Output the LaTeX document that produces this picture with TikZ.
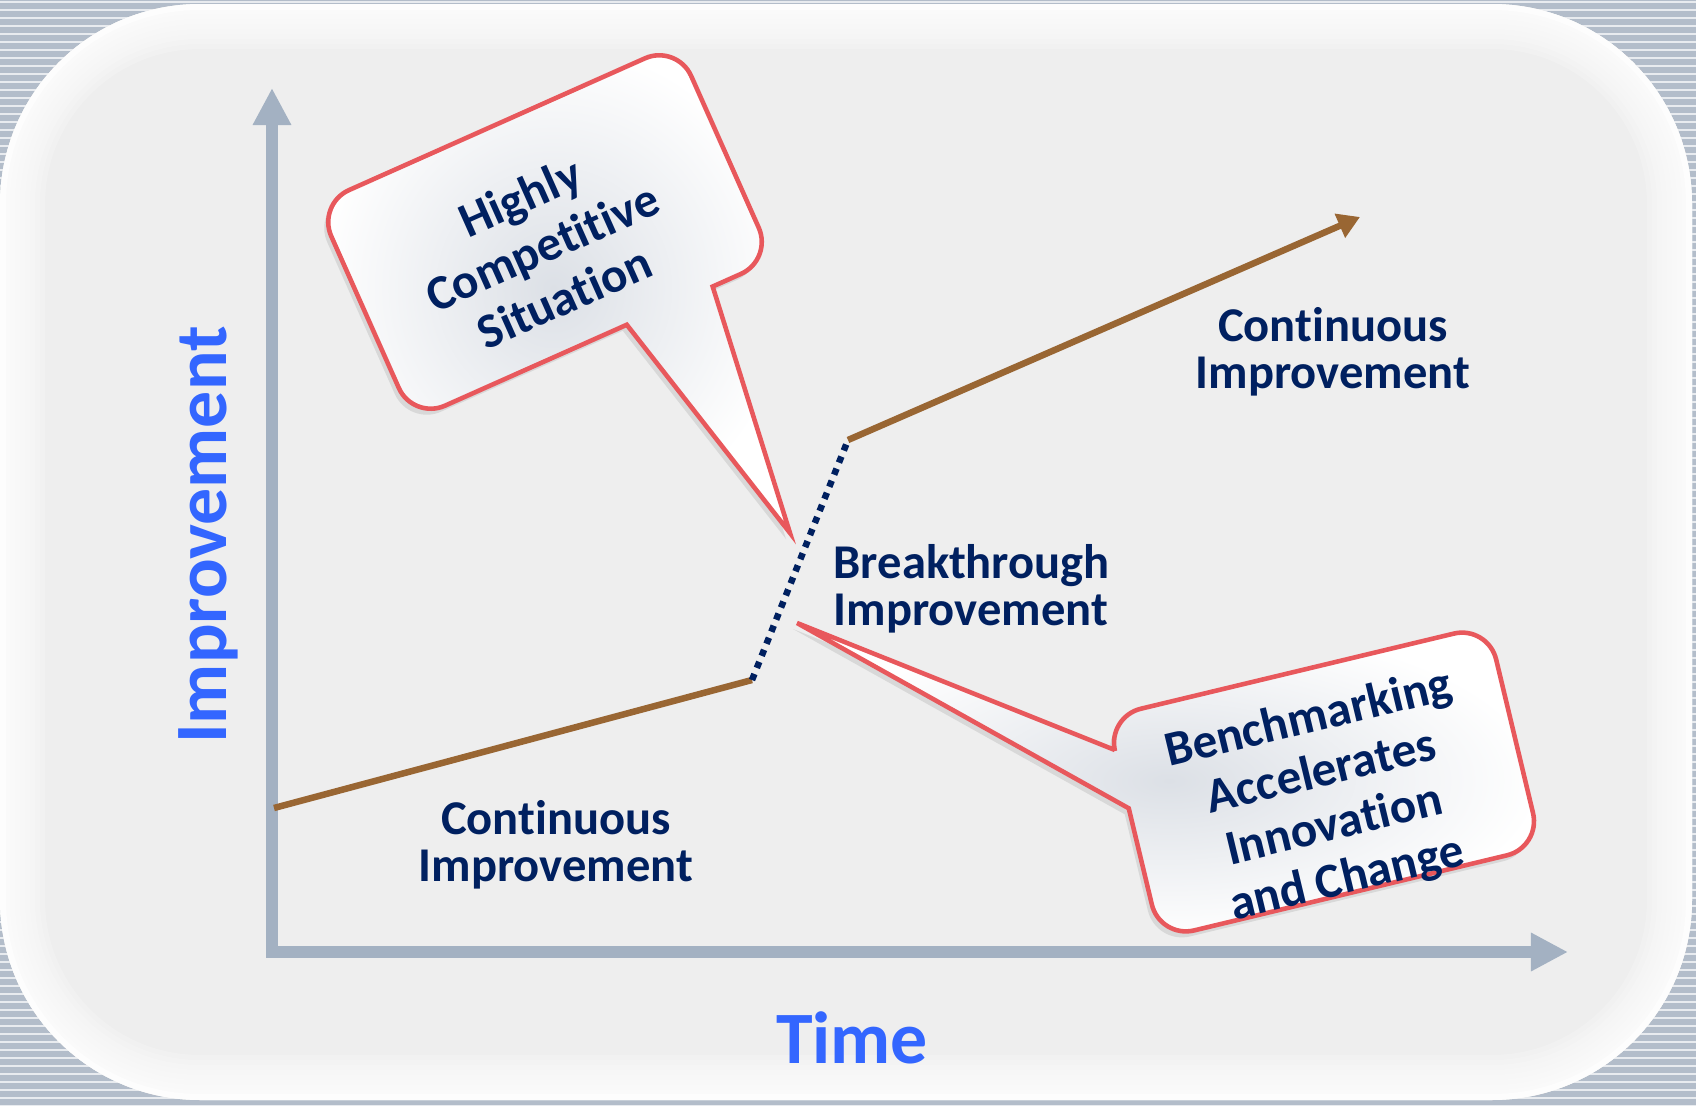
\documentclass[tikz,border=0pt]{standalone}
\usepackage{fontspec}
\setmainfont{Carlito}[Ligatures={NoCommon,NoContextual,NoRequired}, Contextuals=NoAlternate]
\usetikzlibrary{arrows.meta, shadows, positioning}

\definecolor{navy}{HTML}{002060}
\definecolor{axisblue}{HTML}{3366FF}
\definecolor{axisgrey}{HTML}{A3B1C2}
\definecolor{brownline}{HTML}{996633}
\definecolor{bubred}{HTML}{E8585C}
\definecolor{bubgrey}{HTML}{DCE0E6}
\definecolor{panel}{HTML}{EEEEEE}
\definecolor{stripe}{HTML}{B3BDCA}

\begin{document}
\begin{tikzpicture}[x=0.01cm, y=-0.01cm,
	axis/.style={axisgrey, line width=0.12cm},
	growth/.style={brownline, line width=0.065cm},
	leap/.style={navy, line width=0.065cm, dash pattern=on 0.065cm off 0.065cm},
	lbl/.style={text=navy, font=\fontsize{13.8}{13.3}\selectfont\bfseries, align=center, inner sep=0pt},
	axislbl/.style={text=axisblue, font=\fontsize{21}{24}\selectfont\bfseries, inner sep=0pt},
	bubtxt/.style={text=navy, font=\fontsize{14}{15.6}\selectfont\bfseries, align=center, inner sep=0pt},
	bubble/.style={draw=bubred, line width=1.3pt, inner color=bubgrey, outer color=white,
		drop shadow={shadow xshift=-0.04cm, shadow yshift=-0.06cm, opacity=0.2}}]
	\useasboundingbox (0,0) rectangle (1696,1106);
	
	% striped frame and panel
	\fill[stripe] (0,0) rectangle (1696,1106);
	\foreach \y in {2,10,...,1106}
		\draw[white, opacity=0.7, line width=0.02cm] (0,\y) -- (1696,\y);
	\fill[panel, rounded corners=2cm] (0,4) rectangle (1692,1100);
	\begin{scope}
		\clip[rounded corners=2cm] (0,4) rectangle (1692,1100);
		\foreach \w in {0.9,0.8,...,0.1}
			\draw[white, opacity=0.18, line width=\w cm, rounded corners=2cm] (0,4) rectangle (1692,1100);
		\draw[white, opacity=0.6, line width=0.12cm, rounded corners=2cm] (0,4) rectangle (1692,1100);
	\end{scope}
	
	% axes
	\coordinate (origin) at (272,952);
	\coordinate (ytip) at (272,88);
	\coordinate (xtip) at (1568,952);
	\draw[axis, {Triangle[length=0.37cm,width=0.36cm]}-{Triangle[length=0.37cm,width=0.36cm]}] (ytip) -- (origin) -- (xtip);
	
	% improvement curve
	\coordinate (start) at (274,808);
	\coordinate (kinkA) at (752,680);
	\coordinate (kinkB) at (848,440);
	\coordinate (finish) at (1360,217);
	\draw[growth] (start) -- (kinkA);
	\draw[leap] (kinkA) -- (kinkB);
	\draw[growth, -{Triangle[length=0.22cm,width=0.25cm]}] (kinkB) -- (finish);
	
	\node[lbl] (contB) at (1333,352) {Continuous\\Improvement};
	\node[lbl] (contA) at (556,845) {Continuous\\Improvement};
	\node[lbl, align=left, anchor=west] (brk) at (833,589) {Breakthrough\\Improvement};
	\node[axislbl, rotate=90] (ylbl) at (208,535) {Improvement};
	\node[axislbl] (xlbl) at (852,1038) {Time};
	
	% callouts
	\coordinate (tipA) at (790,533);
	\begin{scope}[shift={(545,232)}, rotate=24]
		\path[bubble] (0,-118) [rounded corners=0.35cm] -- (197,-118) -- (197,118) [sharp corners] -- (131,118) -- (tipA) -- (37,118) [rounded corners=0.35cm] -- (-197,118) -- (-197,-118) -- cycle;
	\end{scope}
	\node[bubtxt, rotate=24] (comp) at (542,247) {Highly\\Compet\kern0pt it\kern0pt ive\\Situat\kern0pt ion};
	
	\coordinate (tipB) at (797,623);
	\begin{scope}[shift={(1324,782)}, rotate=13.5]
		\path[bubble] (0,-114) [rounded corners=0.35cm] -- (196,-114) -- (196,114) -- (-196,114) [sharp corners] -- (-196,-20) -- (tipB) -- (-196,-80) [rounded corners=0.35cm] -- (-196,-114) -- cycle;
	\end{scope}
	\node[bubtxt, rotate=13.5] (bench) at (1328,800) {Benchmarking\\Accelerates\\Innovat\kern0pt ion\\and Change};
\end{tikzpicture}
\end{document}
